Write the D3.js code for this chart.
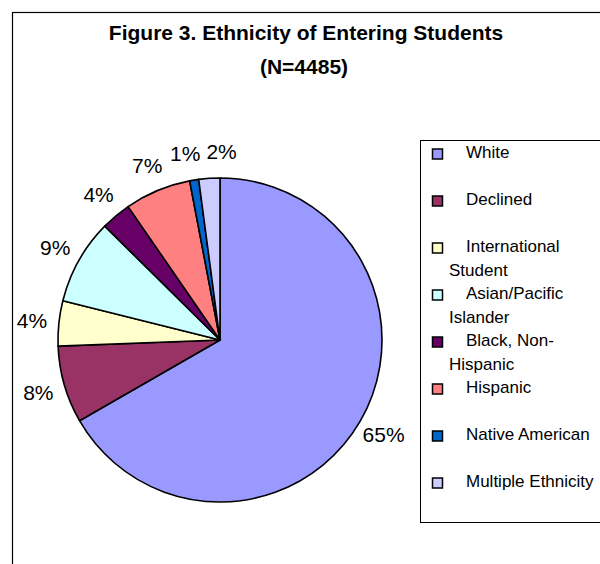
<!DOCTYPE html>
<html>
<head>
<meta charset="utf-8">
<script src="https://cdn.jsdelivr.net/npm/d3@7"></script>
<style>
  body { margin: 0; background: #fff; }
  svg { font-family: "Liberation Sans", Arial, sans-serif; }
</style>
</head>
<body>
<div id="chart"></div>
<script>
var categories = ["White", "Declined", "International Student", "Asian/Pacific Islander",
                  "Black, Non-Hispanic", "Hispanic", "Native American", "Multiple Ethnicity"];
var values = [66.7, 7.7, 4.5, 8.5, 3.0, 6.6, 0.9, 2.1];
var pctLabels = ["65%", "8%", "4%", "9%", "4%", "7%", "1%", "2%"];
// legend text, wrapped the way the picture wraps it
var legendLines = [["White"], ["Declined"], ["International", "Student"],
                   ["Asian/Pacific", "Islander"], ["Black, Non-", "Hispanic"],
                   ["Hispanic"], ["Native American"], ["Multiple Ethnicity"]];
var colors = ["#9999ff", "#993366", "#ffffcc", "#ccffff", "#660066", "#ff8080", "#0066cc", "#ccccff"];

var width = 600, height = 564;
var cx = 220, cy = 340, radius = 162;

var svg = d3.select("#chart").append("svg")
    .attr("width", width)
    .attr("height", height);

// outer chart border (runs off the right and bottom)
svg.append("rect")
    .attr("x", 12.5).attr("y", 12.5)
    .attr("width", 700).attr("height", 700)
    .attr("fill", "#fff")
    .attr("stroke", "#000")
    .attr("stroke-width", 1.2);

svg.append("text")
    .attr("x", 306).attr("y", 40)
    .attr("text-anchor", "middle")
    .style("font-size", "21px").style("font-weight", "bold")
    .text("Figure 3. Ethnicity of Entering Students");
svg.append("text")
    .attr("x", 304).attr("y", 74)
    .attr("text-anchor", "middle")
    .style("font-size", "21px").style("font-weight", "bold")
    .text("(N=4485)");

var pie = d3.pie().sort(null).value(function(d) { return d; });
var arcs = pie(values);
var arc = d3.arc().innerRadius(0).outerRadius(radius);
var labelArc = d3.arc().innerRadius(189).outerRadius(189);

var g = svg.append("g").attr("transform", "translate(" + cx + "," + cy + ")");

g.selectAll("path")
    .data(arcs)
    .enter().append("path")
    .attr("d", arc)
    .attr("fill", function(d, i) { return colors[i]; })
    .attr("stroke", "#000")
    .attr("stroke-width", 1.6)
    .attr("stroke-linejoin", "round");

var labels = g.selectAll("text.pct")
    .data(arcs)
    .enter().append("text")
    .attr("class", "pct")
    .attr("x", function(d) { return labelArc.centroid(d)[0]; })
    .attr("y", function(d) { return labelArc.centroid(d)[1]; })
    .attr("text-anchor", "middle")
    .attr("dy", "0.35em")
    .style("font-size", "21px")
    .text(function(d, i) { return pctLabels[i]; });

// push apart neighbouring labels that collide (the thin slices at the top)
var nodes = labels.nodes(), gap = 6;
for (var pass = 0; pass < 3; pass++) {
    for (var i = 1; i < nodes.length; i++) {
        var a = nodes[i - 1].getBBox(), b = nodes[i].getBBox();
        var overlapX = Math.min(a.x + a.width, b.x + b.width) - Math.max(a.x, b.x);
        var overlapY = Math.min(a.y + a.height, b.y + b.height) - Math.max(a.y, b.y);
        if (overlapX > -gap && overlapY > 0) {
            var need = overlapX + gap;
            d3.select(nodes[i - 1]).attr("x", +nodes[i - 1].getAttribute("x") - need * 0.25);
            d3.select(nodes[i]).attr("x", +nodes[i].getAttribute("x") + need * 0.75);
        }
    }
}

// legend
svg.append("rect")
    .attr("x", 420.5).attr("y", 140.5)
    .attr("width", 300).attr("height", 382)
    .attr("fill", "#fff")
    .attr("stroke", "#000")
    .attr("stroke-width", 1);

var itemY = d3.scalePoint()
    .domain(d3.range(categories.length))
    .range([154, 483]);

var items = svg.selectAll("g.leg")
    .data(categories)
    .enter().append("g")
    .attr("class", "leg")
    .attr("transform", function(d, i) { return "translate(0," + itemY(i) + ")"; });

items.append("rect")
    .attr("x", 432.5).attr("y", -5)
    .attr("width", 10).attr("height", 10)
    .attr("fill", function(d, i) { return colors[i]; })
    .attr("stroke", "#000")
    .attr("stroke-width", 1.5);

items.each(function(d, i) {
    var t = d3.select(this).append("text")
        .style("font-size", "17px");
    legendLines[i].forEach(function(line, j) {
        t.append("tspan")
            .attr("x", j === 0 ? 466 : 449)
            .attr("y", 3.5 + j * 24)
            .text(line);
    });
});
</script>
</body>
</html>
